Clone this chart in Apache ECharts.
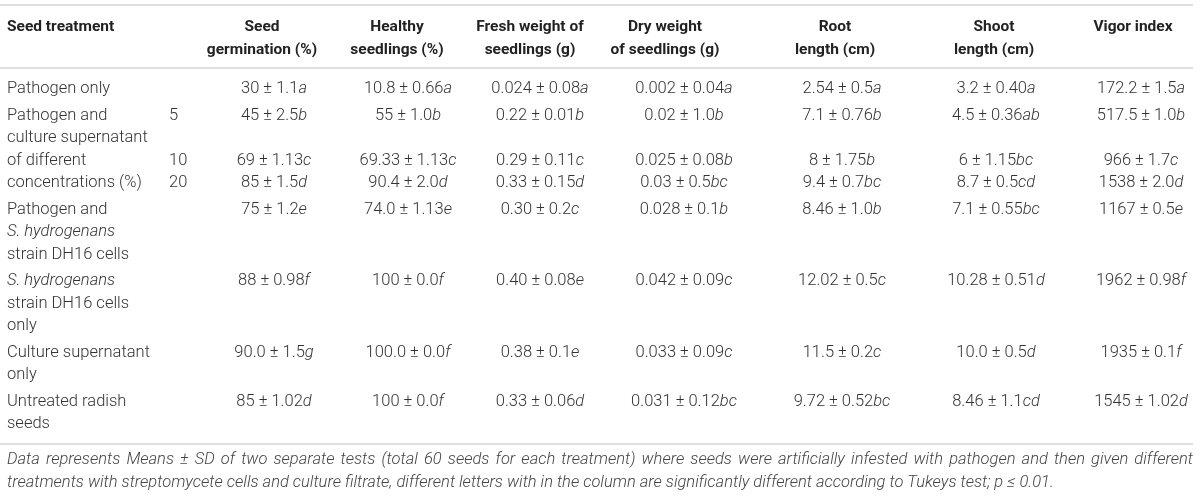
<!DOCTYPE html>
<html>
<head>
<meta charset="utf-8">
<script src="https://cdn.jsdelivr.net/npm/echarts@6/dist/echarts.min.js"></script>
<style>
  html, body { margin: 0; padding: 0; background: #fff; }
  #main { width: 1200px; height: 496px; }
</style>
</head>
<body>
<div id="main"></div>
<script>
// 表格内容
var colHeaders = [
    ['Seed', 'germination (%)'],
    ['Healthy', 'seedlings (%)'],
    ['Fresh weight of', 'seedlings (g)'],
    ['Dry weight', 'of seedlings (g)'],
    ['Root', 'length (cm)'],
    ['Shoot', 'length (cm)'],
    ['Vigor index']
];
var treatments = [
    ['Pathogen only'],
    ['Pathogen and', 'culture supernatant', 'of different', 'concentrations (%)'],
    ['Pathogen and', 'S. hydrogenans', 'strain DH16 cells'],
    ['S. hydrogenans', 'strain DH16 cells', 'only'],
    ['Culture supernatant', 'only'],
    ['Untreated radish', 'seeds']
];
var concentrations = ['', '5', '10', '20', '', '', '', ''];
var germination = ['30 ± 1.1a', '45 ± 2.5b', '69 ± 1.13c', '85 ± 1.5d', '75 ± 1.2e', '88 ± 0.98f', '90.0 ± 1.5g', '85 ± 1.02d'];
var healthy = ['10.8 ± 0.66a', '55 ± 1.0b', '69.33 ± 1.13c', '90.4 ± 2.0d', '74.0 ± 1.13e', '100 ± 0.0f', '100.0 ± 0.0f', '100 ± 0.0f'];
var freshWeight = ['0.024 ± 0.08a', '0.22 ± 0.01b', '0.29 ± 0.11c', '0.33 ± 0.15d', '0.30 ± 0.2c', '0.40 ± 0.08e', '0.38 ± 0.1e', '0.33 ± 0.06d'];
var dryWeight = ['0.002 ± 0.04a', '0.02 ± 1.0b', '0.025 ± 0.08b', '0.03 ± 0.5bc', '0.028 ± 0.1b', '0.042 ± 0.09c', '0.033 ± 0.09c', '0.031 ± 0.12bc'];
var rootLength = ['2.54 ± 0.5a', '7.1 ± 0.76b', '8 ± 1.75b', '9.4 ± 0.7bc', '8.46 ± 1.0b', '12.02 ± 0.5c', '11.5 ± 0.2c', '9.72 ± 0.52bc'];
var shootLength = ['3.2 ± 0.40a', '4.5 ± 0.36ab', '6 ± 1.15bc', '8.7 ± 0.5cd', '7.1 ± 0.55bc', '10.28 ± 0.51d', '10.0 ± 0.5d', '8.46 ± 1.1cd'];
var vigorIndex = ['172.2 ± 1.5a', '517.5 ± 1.0b', '966 ± 1.7c', '1538 ± 2.0d', '1167 ± 0.5e', '1962 ± 0.98f', '1935 ± 0.1f', '1545 ± 1.02d'];
var footnote = [
    'Data represents Means ± SD of two separate tests (total 60 seeds for each treatment) where seeds were artificially infested with pathogen and then given different',
    'treatments with streptomycete cells and culture filtrate, different letters with in the column are significantly different according to Tukeys test; p ≤ 0.01.'
];

// 版面布局
var valueCols = [germination, healthy, freshWeight, dryWeight, rootLength, shootLength, vigorIndex];
var headerX = [262, 397, 530, 665, 835, 994, 1133];
var valueX = [274, 408, 540, 684, 842, 996, 1141];
var labelX = 7, concX = 169;
var headY = [27, 50];
var firstLineY = 89, linePitch = 22.5, groupGap = 4;
var groupStart = [0, 1, 5, 8, 11, 13];
var rowLine = [0, 1, 3, 4, 5, 8, 11, 13];
var rules = [5, 68, 444];
var noteY = [460, 483];
var FONT = 'Roboto';
var SIZE = 16.5, HEAD_SIZE = 15.5, NOTE_SIZE = 16.5;

function lineY(line) {
    var g = -1;
    for (var i = 0; i < groupStart.length; i++) if (groupStart[i] <= line) g = i;
    return firstLineY + line * linePitch + g * groupGap;
}

// 单元格
var cells = [];
cells.push([labelX, headY[0], 'Seed treatment', 'left', 'head']);
colHeaders.forEach(function (h, c) {
    h.forEach(function (t, k) { cells.push([headerX[c], headY[k], t, 'center', 'head']); });
});
treatments.forEach(function (lines, g) {
    lines.forEach(function (t, k) { cells.push([labelX, lineY(groupStart[g] + k), t, 'left', 'label']); });
});
concentrations.forEach(function (t, r) {
    if (t) cells.push([concX, lineY(rowLine[r]), t, 'left', 'body']);
});
valueCols.forEach(function (col, c) {
    col.forEach(function (t, r) { cells.push([valueX[c], lineY(rowLine[r]), t, 'center', 'value']); });
});

var richStyle = {
    n: { fontFamily: FONT, fontWeight: 300, fontSize: SIZE, fill: '#333' },
    i: { fontFamily: FONT, fontWeight: 300, fontSize: SIZE, fontStyle: 'italic', fill: '#333' }
};

function cellText(t, kind) {
    if (kind === 'value') {
        var m = t.match(/^(.*?)([a-z]+)$/);
        return '{n|' + m[1] + '}{i|' + m[2] + '}';
    }
    if (kind === 'label' || kind === 'body') {
        return t.indexOf('S. hydrogenans') === 0
            ? '{i|S. hydrogenans}{n|' + t.slice(14) + '}' : '{n|' + t + '}';
    }
    return t;
}

// 脚注两端对齐
var ctx = document.createElement('canvas').getContext('2d');
var footFont = 'italic 300 ' + NOTE_SIZE + 'px ' + FONT;
ctx.font = footFont;
var noteGraphics = [];
function addNoteLine(text, y, justify) {
    if (!justify) {
        noteGraphics.push({ type: 'text', x: labelX, y: y,
            style: { text: text, font: footFont, fill: '#444', verticalAlign: 'middle' } });
        return;
    }
    var words = text.split(' ');
    var total = 0;
    words.forEach(function (w) { total += ctx.measureText(w).width; });
    var gap = (1193 - labelX - total) / (words.length - 1);
    var x = labelX;
    words.forEach(function (w) {
        noteGraphics.push({ type: 'text', x: x, y: y,
            style: { text: w, font: footFont, fill: '#444', verticalAlign: 'middle' } });
        x += ctx.measureText(w).width + gap;
    });
}
addNoteLine(footnote[0], noteY[0], true);
addNoteLine(footnote[1], noteY[1], false);

var chart = echarts.init(document.getElementById('main'));
var option = {
    animation: false,
    grid: { left: 0, right: 0, top: 0, bottom: 0 },
    xAxis: { type: 'value', min: 0, max: 1200, show: false },
    yAxis: { type: 'value', min: 0, max: 496, inverse: true, show: false },
    graphic: noteGraphics,
    series: [
        {
            type: 'custom',
            silent: true,
            clip: false,
            data: rules.map(function (y) { return [0, y, 1193]; }),
            renderItem: function (params, api) {
                var a = api.coord([api.value(0), api.value(1)]);
                var b = api.coord([api.value(2), api.value(1)]);
                return { type: 'line', shape: { x1: a[0], y1: a[1], x2: b[0], y2: b[1] },
                    style: { stroke: '#d4d4d4', lineWidth: 1.5 } };
            }
        },
        {
            type: 'custom',
            silent: true,
            clip: false,
            data: cells,
            renderItem: function (params, api) {
                var d = cells[params.dataIndex];
                var p = api.coord([d[0], d[1]]);
                var head = d[4] === 'head';
                return {
                    type: 'text', x: p[0], y: p[1],
                    style: {
                        text: cellText(d[2], d[4]),
                        rich: richStyle,
                        fontFamily: FONT,
                        fontSize: head ? HEAD_SIZE : SIZE,
                        fontWeight: head ? 'bold' : 300,
                        fill: head ? '#222' : '#333',
                        align: d[3],
                        verticalAlign: 'middle'
                    }
                };
            }
        }
    ]
};
chart.setOption(option);
</script>
</body>
</html>
